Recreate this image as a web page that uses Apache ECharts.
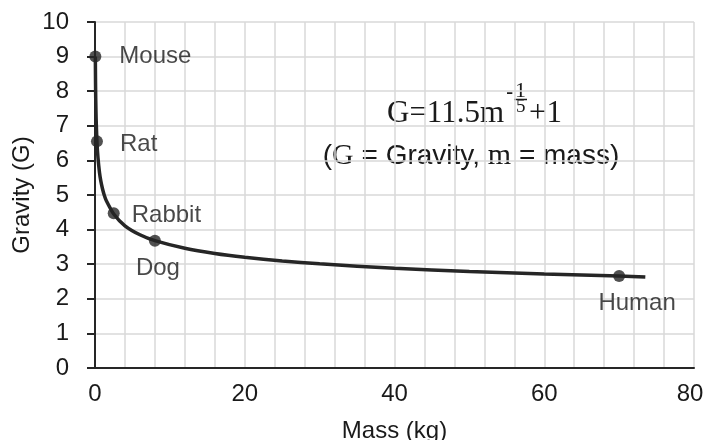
<!DOCTYPE html>
<html>
<head>
<meta charset="UTF-8">
<script src="https://cdn.jsdelivr.net/npm/echarts@6/dist/echarts.min.js"></script>
<style>
  html, body { margin: 0; padding: 0; background: #fff; }
  #chart { width: 704px; height: 440px; }
</style>
</head>
<body>
<div id="chart"></div>
<script>
// animals
var animalNames = ['Mouse', 'Rat', 'Rabbit', 'Dog', 'Human'];
var animalMass = [0.045, 0.26, 2.5, 8, 70];
var animalG = [9.0, 6.55, 4.47, 3.68, 2.66];

// the fitted curve, read point by point
var curveMass = [0.045, 0.07, 0.1, 0.15, 0.26, 0.4, 0.6, 0.78, 1, 1.23, 1.5, 2.5, 4, 6, 8, 12, 16, 20, 25, 30, 40, 50, 60, 70, 73.5];
var curveG = [9.0, 8.27, 7.75, 7.21, 6.54, 6.07, 5.65, 5.40, 5.18, 5.0, 4.84, 4.45, 4.11, 3.85, 3.68, 3.46, 3.31, 3.20, 3.09, 3.01, 2.88, 2.79, 2.72, 2.66, 2.63];

var xTicks = [0, 20, 40, 60, 80];
var yTicks = [0, 1, 2, 3, 4, 5, 6, 7, 8, 9, 10];

var dark = '#262626';
var ink = '#1a1a1a';
var gridColor = '#d9d9d9';
var sans = '"Liberation Sans", Arial, sans-serif';
var serif = '"Liberation Serif", "Times New Roman", serif';

// label placement per animal
var labelPos = {
    Mouse: { position: 'right', distance: 18 },
    Rat: { position: 'right', distance: 17, offset: [0, 3] },
    Rabbit: { position: 'right', distance: 12, offset: [0, 2] },
    Dog: { position: 'bottom', distance: 10, offset: [3, 0] },
    Human: { position: 'bottom', distance: 9, offset: [18, 0] }
};

var curve = [];
for (var i = 0; i < curveMass.length; i++) {
    curve.push([curveMass[i], curveG[i]]);
}
var points = [];
for (var j = 0; j < animalNames.length; j++) {
    var lp = labelPos[animalNames[j]];
    points.push({
        name: animalNames[j],
        value: [animalMass[j], animalG[j]],
        label: {
            show: true,
            formatter: '{b}',
            position: lp.position,
            distance: lp.distance,
            offset: lp.offset || [0, 0]
        }
    });
}

var chart = echarts.init(document.getElementById('chart'), null, { renderer: 'canvas' });
chart.setOption({
    animation: false,
    backgroundColor: '#fff',
    grid: { left: 95, right: 10, top: 22, bottom: 72, containLabel: false, outerBoundsMode: 'none' },
    xAxis: {
        type: 'value',
        min: xTicks[0],
        max: xTicks[xTicks.length - 1],
        interval: 20,
        name: 'Mass (kg)',
        nameLocation: 'middle',
        nameGap: 51,
        nameMoveOverlap: false,
        nameTextStyle: { fontFamily: sans, fontSize: 24, color: ink },
        axisLine: { show: true, onZero: false, lineStyle: { color: dark, width: 2 } },
        axisTick: { show: false },
        axisLabel: {
            fontFamily: sans, fontSize: 24, color: ink, margin: 14,
            // last label is nudged left so it fits, as in the original
            formatter: function (v) {
                return v === xTicks[xTicks.length - 1] ? '{r|' + v + '}' : String(v);
            },
            rich: { r: { fontFamily: sans, fontSize: 24, color: ink, padding: [0, 8, 0, 0] } }
        },
        splitLine: { show: true, lineStyle: { color: gridColor, width: 1.5 } },
        minorTick: { show: false, splitNumber: 5 },
        minorSplitLine: { show: true, lineStyle: { color: gridColor, width: 1.5 } }
    },
    yAxis: {
        type: 'value',
        min: yTicks[0],
        max: yTicks[yTicks.length - 1],
        interval: 1,
        name: 'Gravity (G)',
        nameLocation: 'middle',
        nameGap: 61,
        nameMoveOverlap: false,
        nameTextStyle: { fontFamily: sans, fontSize: 24, color: ink },
        axisLine: { show: true, lineStyle: { color: dark, width: 2 } },
        axisTick: { show: true, inside: false, length: 8, lineStyle: { color: dark, width: 2 } },
        axisLabel: { fontFamily: sans, fontSize: 24, color: ink, margin: 26 },
        splitLine: { show: true, lineStyle: { color: gridColor, width: 1.5 } }
    },
    series: [
        {
            type: 'line',
            data: curve,
            showSymbol: false,
            smooth: 0.2,
            lineStyle: { color: dark, width: 3.5 },
            z: 3
        },
        {
            type: 'scatter',
            data: points,
            symbol: 'circle',
            symbolSize: 12,
            itemStyle: { color: dark },
            label: { fontFamily: sans, fontSize: 24, color: ink },
            z: 4
        }
    ],
    graphic: [
        {
            type: 'text', x: 387, y: 114,
            style: { text: 'G=11.5m', font: '31px ' + serif, fill: ink, verticalAlign: 'middle' }
        },
        {
            type: 'text', x: 506, y: 93,
            style: { text: '-', font: '22px ' + sans, fill: ink, verticalAlign: 'middle' }
        },
        {
            type: 'text', x: 515, y: 91,
            style: { text: '1', font: '22px ' + serif, fill: ink, verticalAlign: 'middle' }
        },
        {
            type: 'line',
            shape: { x1: 514, y1: 99.5, x2: 527, y2: 99.5 },
            style: { stroke: ink, lineWidth: 1.5 }
        },
        {
            type: 'text', x: 516, y: 107.5,
            style: { text: '5', font: '19px ' + serif, fill: ink, verticalAlign: 'middle' }
        },
        {
            type: 'text', x: 529, y: 114,
            style: { text: '+1', font: '31px ' + serif, fill: ink, verticalAlign: 'middle' }
        },
        {
            type: 'text', x: 471, y: 156,
            style: {
                text: '({s|G} = Gravity, {s|m} = mass)',
                font: '28px ' + sans,
                fill: ink,
                align: 'center',
                verticalAlign: 'middle',
                rich: {
                    s: { fontFamily: serif, fontSize: 30, fill: ink }
                }
            }
        }
    ]
});
</script>
</body>
</html>
